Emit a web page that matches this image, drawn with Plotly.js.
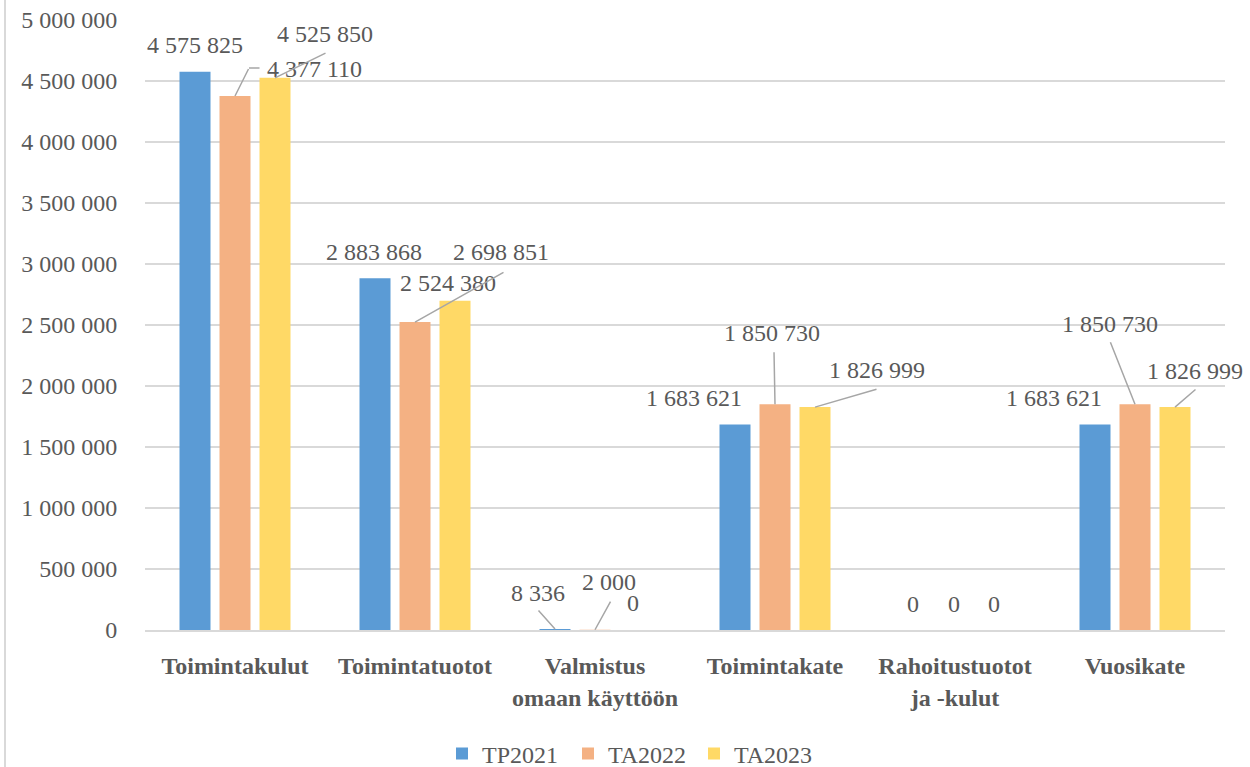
<!DOCTYPE html>
<html><head><meta charset="utf-8">
<script src="https://cdn.plot.ly/plotly-3.0.1.min.js"></script>
<style>
html,body{margin:0;padding:0;background:#fff;}
#chart{width:1250px;height:767px;}
#frame{position:absolute;left:4px;top:0;width:2px;height:767px;background:#d9d9d9;}
</style>
</head><body>
<div id="chart"></div><div id="frame"></div>
<script>
// ---- data ----
const categories = ['Toimintakulut', 'Toimintatuotot', 'Valmistus<br>omaan käyttöön', 'Toimintakate', 'Rahoitustuotot<br>ja -kulut', 'Vuosikate'];
const seriesNames = ['TP2021', 'TA2022', 'TA2023'];
const tp2021 = [4575825, 2883868, 8336, 1683621, 0, 1683621];
const ta2022 = [4377110, 2524380, 2000, 1850730, 0, 1850730];
const ta2023 = [4525850, 2698851, 0, 1826999, 0, 1826999];
const yTickVals = [0, 500000, 1000000, 1500000, 2000000, 2500000, 3000000, 3500000, 4000000, 4500000, 5000000];

// ---- styling ----
const colors = ['#5B9BD5', '#F4B183', '#FFD966'];
const textColor = '#595959';
const gridColor = '#d9d9d9';
const leaderColor = '#a6a6a6';
const font = '"Liberation Serif", "DejaVu Serif", serif';
const bargap = 1/3, bargroupgap = 0.225;

// label placement (pixel offsets from bar top centre): [xshift, yshift]
const labelShift = [
  [[0,27],[-1,26],[-17,36],[-41,27],[-2,26],[-41,27]],
  [[79,27],[33,39],[14,48],[-3,71],[-1,26],[-25,80]],
  [[50,44],[46,49],[-2,27],[62,37],[-1,26],[20,36]]
];
// leader lines: list of segments [startShiftX, startShiftY(up), ax, ay]
const leaders = [
  [[],[],[[0,0,-17,-19]],[],[],[]],
  [[[0,0,14,-28],[14,28,11,0]],[[0,0,89,-50]],[[0,0,16,-29]],[[0,0,-1,-53]],[],[[0,0,-25,-63]]],
  [[[0,0,51,-25]],[],[],[[0,0,62,-18]],[],[[0,0,21,-18]]]
];

const series = [tp2021, ta2022, ta2023];
const fmt = v => String(v).replace(/\B(?=(\d{3})+(?!\d))/g, ' ');
const yTickText = yTickVals.map(fmt);

const traces = series.map((vals, k) => ({
  type: 'bar', name: seriesNames[k], x: categories, y: vals,
  marker: {color: colors[k]}, hoverinfo: 'skip'
}));

const slot = (1 - bargap) / 3;
const annotations = [];
series.forEach((vals, k) => {
  vals.forEach((v, i) => {
    const xpos = i + (k - 1) * slot;
    annotations.push({
      x: xpos, y: v, xref: 'x', yref: 'y', text: fmt(v), showarrow: false,
      xanchor: 'center', yanchor: 'middle',
      xshift: labelShift[k][i][0], yshift: labelShift[k][i][1],
      font: {family: font, size: 24, color: textColor}
    });
    leaders[k][i].forEach(seg => {
      annotations.push({
        x: xpos, y: v, xref: 'x', yref: 'y', text: ' ', showarrow: true,
        arrowhead: 0, arrowwidth: 1.5, arrowcolor: leaderColor, standoff: 0, startstandoff: 0,
        ax: seg[2], ay: seg[3], xshift: seg[0], yshift: seg[1],
        font: {size: 1}, borderpad: 0
      });
    });
  });
});

const layout = {
  width: 1250, height: 767,
  margin: {l: 145, r: 25, t: 20, b: 137, autoexpand: false},
  paper_bgcolor: '#fff', plot_bgcolor: '#fff',
  barmode: 'group', bargap: bargap, bargroupgap: bargroupgap,
  font: {family: font, color: textColor, size: 24},
  xaxis: {
    type: 'category', range: [-0.5, categories.length - 0.5],
    showgrid: false, showline: true, linecolor: gridColor, linewidth: 1.5,
    ticks: 'outside', ticklen: 14, tickcolor: 'rgba(0,0,0,0)',
    tickfont: {family: font, size: 24, color: textColor, weight: 'bold'},
    fixedrange: true, automargin: false
  },
  yaxis: {
    range: [0, 5000000], tickvals: yTickVals, ticktext: yTickText,
    showgrid: true, gridcolor: gridColor, gridwidth: 1.5, zeroline: false,
    ticks: 'outside', ticklen: 22, tickcolor: 'rgba(0,0,0,0)',
    tickfont: {family: font, size: 24, color: textColor}, fixedrange: true, automargin: false
  },
  showlegend: true,
  legend: {
    orientation: 'h', x: 0.45, xanchor: 'center', y: -0.203, yanchor: 'middle',
    font: {family: font, size: 24, color: textColor}, itemwidth: 30,
    traceorder: 'normal', entrywidth: 81, entrywidthmode: 'pixels'
  },
  annotations: annotations
};

Plotly.newPlot('chart', traces, layout, {displayModeBar: false, staticPlot: true});
</script>
</body></html>
